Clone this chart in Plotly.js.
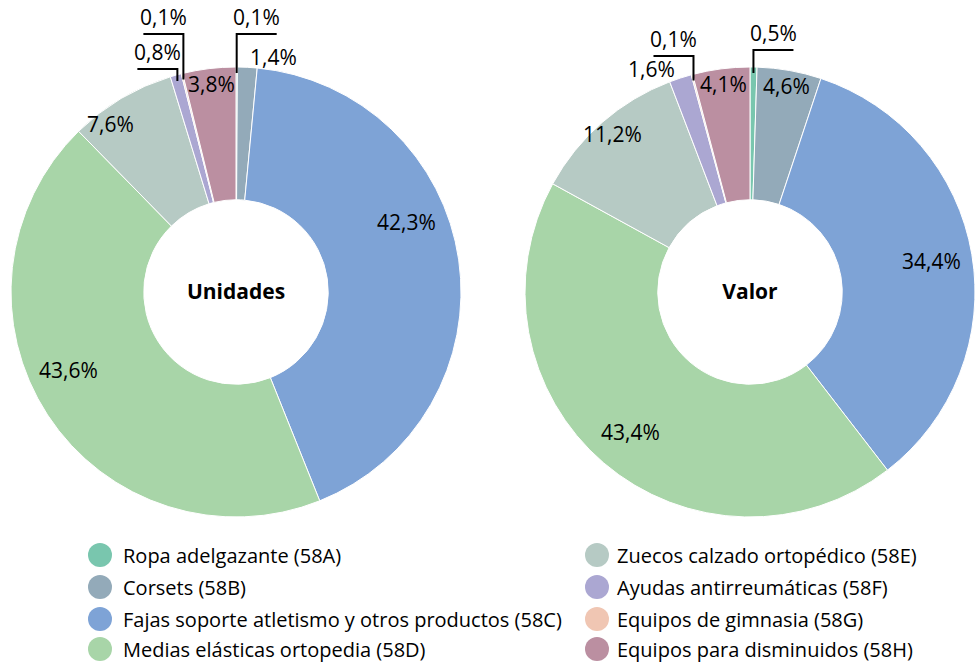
<!DOCTYPE html>
<html><head><meta charset="utf-8">
<script src="https://cdn.plot.ly/plotly-3.0.1.min.js"></script>
<style>html,body{margin:0;padding:0;background:#fff}</style>
</head><body><div id="chart" style="width:976px;height:662px"></div>
<script>
// ---- data ----
const codes = ['58A','58B','58C','58D','58E','58F','58G','58H'];
const categoryNames = ['Ropa adelgazante (58A)','Corsets (58B)','Fajas soporte atletismo y otros productos (58C)','Medias elásticas ortopedia (58D)','Zuecos calzado ortopédico (58E)','Ayudas antirreumáticas (58F)','Equipos de gimnasia (58G)','Equipos para disminuidos (58H)'];
const unidadesValues = [0.1, 1.4, 42.3, 43.6, 7.6, 0.8, 0.1, 3.8];
const valorValues = [0.5, 4.6, 34.4, 43.4, 11.2, 1.6, 0.1, 4.1];
const pieTitles = ['Unidades','Valor'];

// ---- style / layout config ----
const colors = ['#79c6ae','#93aab9','#7ea3d6','#a8d5a8','#b6cac4','#aba7d2','#f0c6b3','#bb8fa1'];
const FONT = 'Open Sans, Noto Sans, sans-serif';
const LABEL_SIZE = 21;
const W = 976, H = 662;
const pies = [
  {cx:236, cy:292, R:225, values:unidadesValues, title:pieTitles[0],
   leaders:{'58A':{rise:33, dir:1}, '58G':{rise:33, dir:-1}, '58F':{rise:-2, dir:-1}},
   outside:['58B'], nudge:{'58C':-14,'58D':8,'58E':-6}},
  {cx:750, cy:292, R:225, values:valorValues, title:pieTitles[1],
   leaders:{'58A':{rise:17, dir:1}, '58G':{rise:11, dir:-1}},
   outside:['58F'], nudge:{}}
];
const px = x => x / W, py = y => 1 - y / H;
const fmt = v => v.toFixed(1).replace('.', ',') + '%';

const traces = [], annotations = [], shapes = [];
pies.forEach(p => {
  traces.push({
    type:'pie', values:p.values, labels:categoryNames, sort:false, direction:'clockwise', rotation:0,
    hole:0.41, textinfo:'none', hoverinfo:'none', showlegend:false,
    marker:{colors:colors, line:{color:'#ffffff', width:1}},
    domain:{x:[px(p.cx-p.R), px(p.cx+p.R)], y:[py(p.cy+p.R), py(p.cy-p.R)]},
    title:{text:'<b>'+p.title+'</b>', position:'middle center', font:{family:FONT, size:21, color:'#000'}}
  });
  const total = p.values.reduce((a,b)=>a+b,0);
  let cum = 0;
  p.values.forEach((v,i) => {
    const code = codes[i];
    const mid = (cum + v/2) / total * 360;
    cum += v;
    const t = fmt(v);
    const font = {family:FONT, size:LABEL_SIZE, color:'#000'};
    if (p.leaders[code]) {
      const L = p.leaders[code];
      const a = mid * Math.PI/180;
      const x0 = p.cx + (p.R-6)*Math.sin(a), y0 = p.cy - (p.R-6)*Math.cos(a);
      const yl = p.cy - p.R - L.rise;
      const x1 = x0 + L.dir*40;
      shapes.push({type:'path', xref:'paper', yref:'paper',
        path:`M${px(x0)},${py(y0)} L${px(x0)},${py(yl)} L${px(x1)},${py(yl)}`,
        line:{color:'#000', width:2}});
      annotations.push({xref:'paper', yref:'paper', x:px((x0+x1)/2), y:py(yl-1), text:t,
        showarrow:false, xanchor:'center', yanchor:'bottom', font:font});
    } else if (p.outside.includes(code)) {
      const a = mid * Math.PI/180, r = p.R + 10;
      const x = p.cx + r*Math.sin(a), y = p.cy - r*Math.cos(a);
      annotations.push({xref:'paper', yref:'paper', x:px(x), y:py(y), text:t, showarrow:false,
        xanchor: mid < 180 ? 'left' : 'right', yanchor:'middle', font:font});
    } else {
      const ang = (mid + (p.nudge[code]||0)) * Math.PI/180;
      const r = (v/total > 0.2 ? 0.82 : 0.93) * p.R;
      annotations.push({xref:'paper', yref:'paper', x:px(p.cx + r*Math.sin(ang)), y:py(p.cy - r*Math.cos(ang)),
        text:t, showarrow:false, xanchor:'center', yanchor:'middle', font:font});
    }
  });
});

// ---- manual legend: two columns ----
const legCols = [{cx:100, tx:121}, {cx:597, tx:615}];
const legRows = [555, 587, 619, 649];
categoryNames.forEach((name,i) => {
  const c = legCols[Math.floor(i/4)], y = legRows[i%4];
  shapes.push({type:'circle', xref:'paper', yref:'paper', x0:px(c.cx-12), x1:px(c.cx+12),
    y0:py(y+12), y1:py(y-12), fillcolor:colors[i], line:{width:0}});
  annotations.push({xref:'paper', yref:'paper', x:px(c.tx), y:py(y), text:name, showarrow:false,
    xanchor:'left', yanchor:'middle', font:{family:FONT, size:20, color:'#000'}});
});

Plotly.newPlot('chart', traces, {
  width:W, height:H, margin:{l:0,r:0,t:0,b:0}, paper_bgcolor:'#fff', plot_bgcolor:'#fff',
  showlegend:false, annotations:annotations, shapes:shapes
}, {displayModeBar:false, staticPlot:true});
</script></body></html>
